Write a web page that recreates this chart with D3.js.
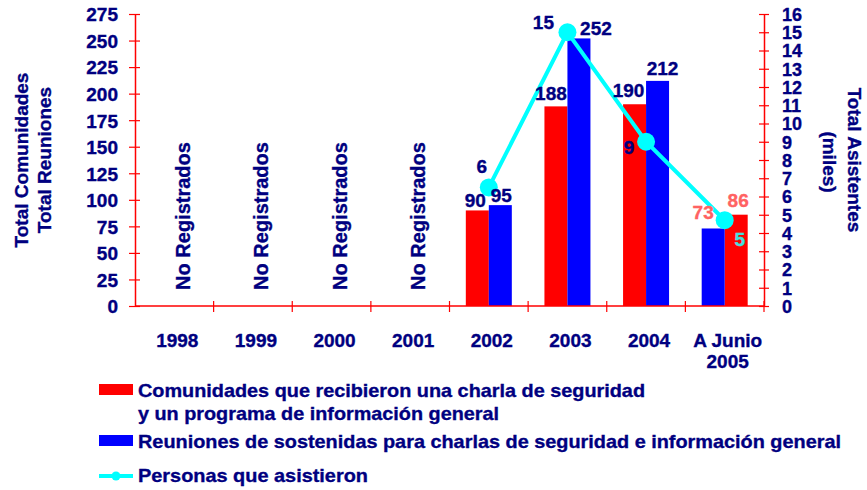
<!DOCTYPE html>
<html>
<head>
  <meta charset="utf-8">
  <script src="https://d3js.org/d3.v7.min.js"></script>
  <style>
    body { margin: 0; background: white; }
    svg { display: block; font-family: 'Liberation Sans', Arial, sans-serif; font-weight: bold; }
  </style>
</head>
<body>
  <svg id="chart" width="867" height="490"></svg>
  <script>
    const categories = ["1998", "1999", "2000", "2001", "2002", "2003", "2004", "A Junio\n2005"];
    const comunidades = [null, null, null, null, 90, 188, 190, 86];
    const reuniones = [null, null, null, null, 95, 252, 212, 73];
    const asistentes = [null, null, null, null, 6.5, 15, 9, 4.7];
    const asistentesLabels = ["", "", "", "", "6", "15", "9", "5"];
    const leftTicks = d3.range(0, 276, 25);
    const rightTicks = d3.range(0, 17, 1);

    const navy = "#000080", red = "#ff0000", blue = "#0000ff", cyan = "#00ffff", salmon = "#ff6262";

    const svg = d3.select("#chart");
    const plotLeft = 135, plotRight = 764, plotTop = 14, plotBottom = 306;

    const x = d3.scaleBand().domain(categories).range([plotLeft, plotRight]);
    const yL = d3.scaleLinear().domain([0, 275]).range([plotBottom, plotTop]);
    const yR = d3.scaleLinear().domain([0, 16]).range([plotBottom, plotTop]);
    const barW = 23;

    // last category has the bars swapped (blue first)
    const swapped = c => c === categories[7];
    const redX = (c) => x(c) + x.bandwidth() / 2 + (swapped(c) ? 0 : -barW);
    const blueX = (c) => x(c) + x.bandwidth() / 2 + (swapped(c) ? -barW : 0);

    // bars
    svg.append("g").selectAll("rect")
      .data(categories.map((c, i) => ({ c, v: comunidades[i] })).filter(d => d.v != null))
      .join("rect")
      .attr("x", d => redX(d.c)).attr("width", barW)
      .attr("y", d => yL(d.v)).attr("height", d => yL(0) - yL(d.v))
      .attr("fill", red);

    svg.append("g").selectAll("rect")
      .data(categories.map((c, i) => ({ c, v: reuniones[i] })).filter(d => d.v != null))
      .join("rect")
      .attr("x", d => blueX(d.c)).attr("width", barW)
      .attr("y", d => yL(d.v)).attr("height", d => yL(0) - yL(d.v))
      .attr("fill", blue);

    // left axis
    const gL = svg.append("g").attr("transform", `translate(${plotLeft},0)`)
      .call(d3.axisLeft(yL).tickValues(leftTicks).tickSizeOuter(0).tickPadding(17));
    gL.select(".domain").attr("stroke", red).attr("stroke-width", 1.5);
    gL.selectAll(".tick line").attr("stroke", red).attr("x1", 5).attr("x2", -6).attr("stroke-width", 1.2);
    gL.selectAll(".tick text").attr("fill", navy).style("font-size", "19px").style("font-weight", "bold")
      .attr("dy", "0.36em").attr("x", -17);

    // right axis
    const gR = svg.append("g").attr("transform", `translate(${plotRight},0)`)
      .call(d3.axisRight(yR).tickValues(rightTicks).tickSizeOuter(0));
    gR.select(".domain").attr("stroke", red).attr("stroke-width", 1.5);
    gR.selectAll(".tick line").attr("stroke", red).attr("x1", -5).attr("x2", 5).attr("stroke-width", 1.2);
    gR.selectAll(".tick text").attr("fill", navy).style("font-size", "18px").style("font-weight", "bold")
      .attr("dy", "0.36em").attr("x", 18);

    // bottom axis
    const gB = svg.append("g");
    gB.append("line").attr("x1", plotLeft).attr("x2", plotRight).attr("y1", plotBottom).attr("y2", plotBottom)
      .attr("stroke", red).attr("stroke-width", 1.5);
    gB.selectAll("line.tk").data(categories.slice(1).concat(["_end"]))
      .join("line").attr("class", "tk")
      .attr("x1", d => d === "_end" ? plotRight : x(d)).attr("x2", d => d === "_end" ? plotRight : x(d))
      .attr("y1", plotBottom - 5).attr("y2", plotBottom + 6)
      .attr("stroke", red).attr("stroke-width", 1.2);

    const catText = gB.selectAll("text.cat").data(categories).join("text").attr("class", "cat")
      .attr("x", d => x(d) + x.bandwidth() / 2 + 3)
      .attr("y", 347)
      .attr("text-anchor", "middle").attr("fill", navy).style("font-size", "19px");
    catText.each(function (d) {
      const lines = d.split("\n");
      d3.select(this).selectAll("tspan").data(lines).join("tspan")
        .attr("x", x(d) + x.bandwidth() / 2 + 3)
        .attr("dy", (l, i) => i === 0 ? 0 : 21)
        .text(l => l);
    });

    // "No Registrados" for empty years
    svg.append("g").selectAll("text")
      .data(categories.filter((c, i) => comunidades[i] == null))
      .join("text")
      .attr("transform", d => `translate(${x(d) + x.bandwidth() / 2 + 8},216) rotate(-90)`)
      .attr("text-anchor", "middle").attr("dy", "0.36em")
      .attr("fill", navy).style("font-size", "20px")
      .text("No Registrados");

    // line series
    const pts = categories.map((c, i) => ({ c, v: asistentes[i], lab: asistentesLabels[i] })).filter(d => d.v != null);
    const line = d3.line().x(d => x(d.c) + x.bandwidth() / 2).y(d => yR(d.v));
    svg.append("path").datum(pts).attr("d", line)
      .attr("fill", "none").attr("stroke", cyan).attr("stroke-width", 4);
    svg.append("g").selectAll("circle").data(pts).join("circle")
      .attr("cx", d => x(d.c) + x.bandwidth() / 2).attr("cy", d => yR(d.v)).attr("r", 9)
      .attr("fill", cyan);

    // value labels (offsets relative to marks)
    const redOff = { "2002": [-2, -3], "2003": [-5, -6], "2004": [-6, -7], "A Junio\n2005": [2, -8] };
    const blueOff = { "2002": [1, -3], "2003": [17, -3], "2004": [5, -6], "A Junio\n2005": [-10, -9] };
    const lineOff = { "2002": [-7, -14], "2003": [-24, -3], "2004": [-17, 12], "A Junio\n2005": [15, 26] };

    const labG = svg.append("g").style("font-size", "19px").attr("text-anchor", "middle");
    categories.forEach((c, i) => {
      if (comunidades[i] == null) return;
      const last = swapped(c);
      labG.append("text")
        .attr("x", redX(c) + barW / 2 + redOff[c][0]).attr("y", yL(comunidades[i]) + redOff[c][1])
        .attr("fill", last ? salmon : navy).text(comunidades[i]);
      labG.append("text")
        .attr("x", blueX(c) + barW / 2 + blueOff[c][0]).attr("y", yL(reuniones[i]) + blueOff[c][1])
        .attr("fill", last ? salmon : navy).text(reuniones[i]);
    });
    pts.forEach(d => {
      const last = swapped(d.c);
      labG.append("text")
        .attr("x", x(d.c) + x.bandwidth() / 2 + lineOff[d.c][0]).attr("y", yR(d.v) + lineOff[d.c][1])
        .attr("fill", last ? "#40e0e0" : navy).text(d.lab);
    });

    // axis titles
    const titleL = svg.append("g").attr("fill", navy).style("font-size", "19px").attr("text-anchor", "middle");
    titleL.append("text").attr("transform", "translate(28,160) rotate(-90)").text("Total Comunidades");
    titleL.append("text").attr("transform", "translate(51,160) rotate(-90)").text("Total Reuniones");
    titleL.append("text").attr("transform", "translate(848,160) rotate(90)").text("Total Asistentes");
    titleL.append("text").attr("transform", "translate(823,162) rotate(90)").text("(miles)");

    // legend
    const legendItems = [
      { type: "rect", color: red, lines: ["Comunidades que recibieron una charla de seguridad", "y un programa de información general"], y: 397, widths: [507, 361] },
      { type: "rect", color: blue, lines: ["Reuniones de sostenidas para charlas de seguridad e información general"], y: 448, widths: [703] },
      { type: "line", color: cyan, lines: ["Personas que asistieron"], y: 482, widths: [230] }
    ];
    const lg = svg.append("g").attr("fill", navy).style("font-size", "19px");
    legendItems.forEach(it => {
      if (it.type === "rect") {
        lg.append("rect").attr("x", 99).attr("y", it.y - 13).attr("width", 34).attr("height", 11).attr("fill", it.color);
      } else {
        lg.append("line").attr("x1", 99).attr("x2", 133).attr("y1", it.y - 6).attr("y2", it.y - 6)
          .attr("stroke", it.color).attr("stroke-width", 4);
        lg.append("circle").attr("cx", 116).attr("cy", it.y - 6).attr("r", 4.5).attr("fill", it.color);
      }
      it.lines.forEach((t, j) => {
        lg.append("text").attr("x", 138).attr("y", it.y + j * 23)
          .attr("textLength", it.widths[j]).attr("lengthAdjust", "spacingAndGlyphs").text(t);
      });
    });

    // slightly heavier glyphs, like the original export
    svg.selectAll("text").each(function () {
      const f = getComputedStyle(this).fill;
      d3.select(this).attr("stroke", f).attr("stroke-width", 0.35);
    });
  </script>
</body>
</html>
